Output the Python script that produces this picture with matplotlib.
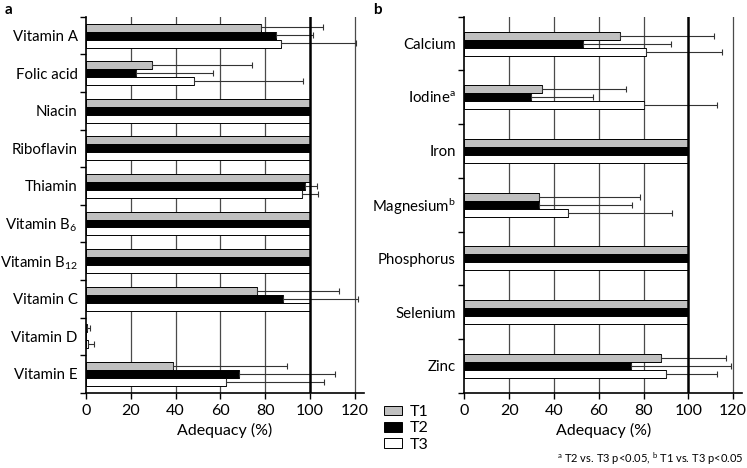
import matplotlib
matplotlib.use("Agg")
import matplotlib.pyplot as plt
from matplotlib.patches import Patch
import numpy as np

plt.rcParams['font.family'] = ['Lato', 'DejaVu Sans']
plt.rcParams['mathtext.fontset'] = 'custom'
plt.rcParams['mathtext.rm'] = 'Lato'
plt.rcParams['mathtext.it'] = 'Lato'
plt.rcParams['mathtext.bf'] = 'Lato:bold'

# ---- data: panel a (vitamins) ----
vit_labels = ['Vitamin A', 'Folic acid', 'Niacin', 'Riboflavin', 'Thiamin',
              'Vitamin B$_{6}$', 'Vitamin B$_{12}$', 'Vitamin C', 'Vitamin D', 'Vitamin E']
vit_t1 = [78, 29.6, 100, 100, 100, 100, 100, 76.2, 0.3, 39]
vit_t2 = [85, 22.5, 100, 100, 97.8, 100, 100, 87.8, 0.2, 68.2]
vit_t3 = [87, 48.4, 100, 100, 96.3, 100, 100, 100, 0.8, 62.4]
# upper end of error bars (None = no error bar)
vit_t1_hi = [106, 74.3, None, None, None, None, None, 113, 1.6, 89.6]
vit_t2_hi = [101.5, 56.5, None, None, 103.3, None, None, 121.4, None, 111.2]
vit_t3_hi = [120.5, 97, None, None, 103.7, None, None, None, 3.6, 106.2]

# ---- data: panel b (minerals) ----
min_labels = ['Calcium', 'Iodine$^{\\rm a}$', 'Iron', 'Magnesium$^{\\rm b}$',
              'Phosphorus', 'Selenium', 'Zinc']
min_t1 = [69.6, 34.8, 100, 33.2, 100, 100, 88]
min_t2 = [52.8, 29.9, 100, 33.2, 100, 100, 74.6]
min_t3 = [81.3, 80.2, 100, 46.4, 100, 100, 90.1]
min_t1_hi = [111.6, 72.2, None, 78.4, None, None, 117]
min_t2_hi = [92.3, 57.6, None, 74.9, None, None, 119]
min_t3_hi = [115, 112.6, None, 92.6, None, None, 113]

series_names = ['T1', 'T2', 'T3']
series_colors = ['#c0c0c0', '#000000', '#ffffff']
x_ticks = [0, 20, 40, 60, 80, 100, 120]

fig = plt.figure(figsize=(7.47, 4.68), dpi=100)
W, H = 747, 468
ax_w = 124 * 2.24
axa = fig.add_axes([86 / W, (H - 392.7) / H, ax_w / W, 376 / H])
axb = fig.add_axes([464.3 / W, (H - 392.7) / H, ax_w / W, 376 / H])


def draw_panel(ax, labels, vals, his, bar_h_px):
    n = len(labels)
    ax_h_px = 376
    h = bar_h_px / (ax_h_px / n)
    centers = np.arange(n) + 0.5
    for g in [20, 40, 60, 80, 120]:
        ax.axvline(g, color='#4a4a4a', lw=0.9, zorder=0)
    offsets = [-h, 0, h]
    for k in range(3):
        y = centers + offsets[k]
        ax.barh(y, vals[k], height=h, color=series_colors[k], edgecolor='#000000',
                linewidth=0.7, zorder=2)
        ev = [(hi - v) if hi is not None else np.nan for v, hi in zip(vals[k], his[k])]
        mask = [e == e for e in ev]
        yy = [yv for yv, m in zip(y, mask) if m]
        xx = [v for v, m in zip(vals[k], mask) if m]
        ee = [e for e, m in zip(ev, mask) if m]
        ax.errorbar(xx, yy, xerr=[[0] * len(ee), ee], fmt='none', ecolor='#333333',
                    elinewidth=0.8, capsize=2.2, capthick=0.8, zorder=3)
    ax.axvline(100, color='#000000', lw=1.8, zorder=4)
    ax.set_xlim(0, 124)
    ax.set_ylim(n, 0)
    ax.set_yticks(centers)
    ax.set_yticklabels(labels, fontsize=10.8)
    ax.set_yticks(np.arange(n + 1), minor=True)
    ax.tick_params(axis='y', which='major', length=0, pad=6)
    ax.tick_params(axis='y', which='minor', length=4, width=1, direction='out')
    ax.set_xticks(x_ticks)
    ax.set_xticklabels([str(t) for t in x_ticks], fontsize=11.5)
    ax.tick_params(axis='x', length=4, width=1, direction='out', pad=4)
    ax.spines['top'].set_visible(False)
    ax.spines['right'].set_visible(False)
    ax.spines['left'].set_linewidth(1.2)
    ax.spines['bottom'].set_linewidth(1.2)
    ax.set_xlabel('Adequacy (%)', fontsize=11.5, labelpad=4)


draw_panel(axa, vit_labels, [vit_t1, vit_t2, vit_t3], [vit_t1_hi, vit_t2_hi, vit_t3_hi], 8)
draw_panel(axb, min_labels, [min_t1, min_t2, min_t3], [min_t1_hi, min_t2_hi, min_t3_hi], 8)

fig.text(5 / W, 1 - 3 / H, 'a', fontsize=11, fontweight='bold', va='top', ha='left')
fig.text(373 / W, 1 - 3 / H, 'b', fontsize=11, fontweight='bold', va='top', ha='left')

handles = [Patch(facecolor=c, edgecolor='#000000', linewidth=0.7) for c in series_colors]
fig.legend(handles, series_names, loc='upper left', bbox_to_anchor=(384 / W, 1 - 405 / H),
           frameon=False, fontsize=11.5, handlelength=1.1, handleheight=0.55,
           labelspacing=0.15, handletextpad=0.5, borderpad=0, borderaxespad=0)

fig.text(743 / W, 1 - 459 / H,
         '$^{\\rm a}$ T2 vs. T3 p<0.05, $^{\\rm b}$ T1 vs. T3 p<0.05',
         fontsize=8, ha='right', va='center')

fig.savefig('out.png', dpi=100)
